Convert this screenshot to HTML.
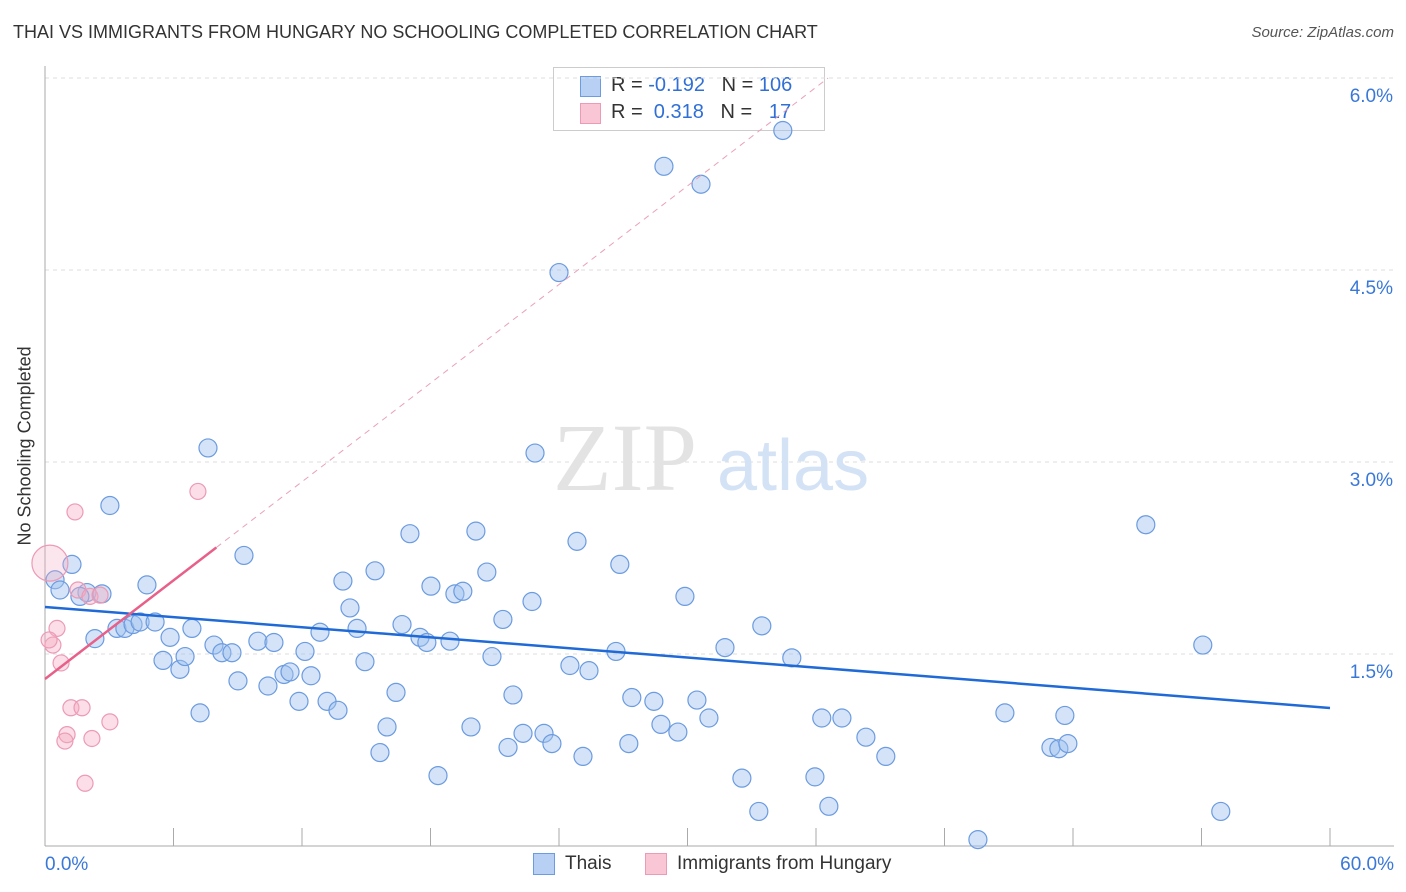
<!DOCTYPE html>
<html><head><meta charset="utf-8"><style>
body{margin:0;background:#fff;font-family:"Liberation Sans",sans-serif;}
#wrap{position:relative;width:1406px;height:892px;overflow:hidden;}
.t{position:absolute;white-space:nowrap;}
</style></head><body>
<div id="wrap">
<div class="t" style="left:13px;top:22px;font-size:18px;color:#333;">THAI VS IMMIGRANTS FROM HUNGARY NO SCHOOLING COMPLETED CORRELATION CHART</div>
<div class="t" style="right:12px;top:24px;font-size:15px;color:#555;font-style:italic;">Source: ZipAtlas.com</div>
<div class="t" style="left:-65px;top:445px;font-size:18px;color:#333;transform:rotate(-90deg);width:180px;text-align:center;">No Schooling Completed</div>
<div style="position:absolute;left:553px;top:67px;width:270px;height:62px;border:1px solid #ccc;background:#fff;"></div>
<div style="position:absolute;left:580px;top:76px;width:19px;height:19px;background:#b8d0f3;border:1px solid #6b9be0;"></div>
<div style="position:absolute;left:580px;top:103px;width:19px;height:19px;background:#f9c6d6;border:1px solid #ec9ab5;"></div>
<div class="t" style="left:611px;top:74px;font-size:20px;color:#333;">R = <span style="color:#2f6fd6">-0.192</span>&nbsp;&nbsp;&nbsp;N = <span style="color:#2f6fd6">106</span></div>
<div class="t" style="left:611px;top:101px;font-size:20px;color:#333;">R = &nbsp;<span style="color:#2f6fd6">0.318</span>&nbsp;&nbsp;&nbsp;N = &nbsp;&nbsp;<span style="color:#2f6fd6">17</span></div>
<svg id="plot" width="1406" height="892" style="position:absolute;left:0;top:0"></svg>
<div style="position:absolute;left:533px;top:853px;width:20px;height:20px;background:#b8d0f3;border:1px solid #6b9be0;"></div>
<div class="t" style="left:565px;top:853px;font-size:19px;color:#333;">Thais</div>
<div style="position:absolute;left:645px;top:853px;width:20px;height:20px;background:#f9c6d6;border:1px solid #ec9ab5;"></div>
<div class="t" style="left:677px;top:853px;font-size:19px;color:#333;">Immigrants from Hungary</div>
</div>
<script>
const xTickLabels=["0.0%","60.0%"];
const yTicks=[1.5,3.0,4.5,6.0];
const yTickLabels=["1.5%","3.0%","4.5%","6.0%"];
const thaiX=[1.26,0.47,0.70,1.96,1.63,2.66,3.03,4.76,2.33,3.36,3.73,4.11,4.44,5.14,5.84,5.51,6.30,6.54,6.86,7.24,7.61,7.89,8.26,8.73,9.01,9.29,9.94,10.41,10.69,11.16,11.44,11.86,12.14,12.42,12.84,13.17,13.68,13.91,14.24,14.57,14.94,15.41,15.97,16.39,16.67,15.64,17.04,17.51,17.83,18.02,18.35,18.91,19.14,19.51,19.89,20.12,20.63,20.87,21.38,21.62,21.85,22.32,22.74,22.88,23.30,23.67,24.00,24.51,24.84,25.12,25.40,26.66,26.84,27.26,27.40,28.43,28.76,28.90,29.55,29.88,30.44,30.63,31.00,31.75,32.54,33.33,33.47,34.45,34.87,35.95,36.27,36.60,37.21,38.33,39.26,43.56,44.82,46.97,47.34,47.62,47.76,51.40,54.06,54.90];
const thaiY=[2.20,2.08,2.00,1.98,1.95,1.97,2.66,2.04,1.62,1.70,1.70,1.73,1.75,1.75,1.63,1.45,1.38,1.48,1.70,1.04,3.11,1.57,1.51,1.51,1.29,2.27,1.60,1.25,1.59,1.34,1.36,1.13,1.52,1.33,1.67,1.13,1.06,2.07,1.86,1.70,1.44,2.15,0.93,1.20,1.73,0.73,2.44,1.63,1.59,2.03,0.55,1.60,1.97,1.99,0.93,2.46,2.14,1.48,1.77,0.77,1.18,0.88,1.91,3.07,0.88,0.80,4.48,1.41,2.38,0.70,1.37,1.52,2.20,0.80,1.16,1.13,0.95,5.31,0.89,1.95,1.14,5.17,1.00,1.55,0.53,0.27,1.72,5.59,1.47,0.54,1.00,0.31,1.00,0.85,0.70,0.05,1.04,0.77,0.76,1.02,0.80,2.51,1.57,0.27];
const hunX=[0.23,1.40,7.14,1.54,2.10,2.57,0.56,0.37,0.19,0.75,1.21,1.73,3.03,1.03,0.93,2.19,1.87];
const hunY=[2.21,2.61,2.77,2.00,1.95,1.96,1.70,1.57,1.61,1.43,1.08,1.08,0.97,0.87,0.82,0.84,0.49];
const thaiTrend=[1.867,1.078];
const hunTrend=[1.305,0.1284];
const svg=document.getElementById('plot');
const NS='http://www.w3.org/2000/svg';
const X0=45,X1=1330,Y0=846,Y6=78;
const xs=v=>X0+v/60*(X1-X0);
const ys=v=>Y0-v/6*(Y0-Y6);
function mk(tag,attrs){const e=document.createElementNS(NS,tag);for(const k in attrs)e.setAttribute(k,attrs[k]);svg.appendChild(e);return e;}
yTicks.forEach((t,i)=>{
 const g=mk('line',{x1:X0,x2:1394,y1:ys(t),y2:ys(t),stroke:'#ddd','stroke-dasharray':'4,4'});
 
 
 const l=mk('text',{x:1393,y:ys(t)+24,'text-anchor':'end','font-size':19,fill:'#3a78d8','font-family':'Liberation Sans'});
 l.textContent=yTickLabels[i];
 
 
});
const ax=mk('line',{x1:X0,x2:X0,y1:66,y2:Y0,stroke:'#aaa'});


const bx=mk('line',{x1:X0,x2:1394,y1:Y0,y2:Y0,stroke:'#aaa'});


for(let i=0;i<=10;i++){
 const tk=mk('line',{x1:xs(i*6),x2:xs(i*6),y1:Y0,y2:828,stroke:'#aaa'});
 
 
}
[[0,'start',45],[60,'end',1394]].forEach((a,i)=>{
 const l=mk('text',{x:a[2],y:870,'text-anchor':a[1],'font-size':19,fill:'#3a78d8','font-family':'Liberation Sans'});
 l.textContent=xTickLabels[i];
 
 
});
const w1=mk('text',{x:553,y:490,'font-size':96,fill:'#e3e3e3','font-family':'Liberation Serif'});
w1.textContent='ZIP';


const w2=mk('text',{x:717,y:490,'font-size':72,fill:'#d4e2f6','font-family':'Liberation Sans'});
w2.textContent='atlas';


thaiX.forEach((x,i)=>{
 const c=mk('circle',{cx:xs(x),cy:ys(thaiY[i]),r:9,fill:'rgba(160,192,238,0.45)',stroke:'#6b9be0','stroke-width':1.2});
 
 
});
hunX.forEach((x,i)=>{
 const c=mk('circle',{cx:xs(x),cy:ys(hunY[i]),r:i===0?18:8,fill:i===0?'rgba(246,172,196,0.3)':'rgba(246,172,196,0.4)',stroke:'#ec9ab5','stroke-width':1.2});
 
 
});
const tl=mk('line',{x1:xs(0),y1:ys(thaiTrend[0]),x2:xs(60),y2:ys(thaiTrend[1]),stroke:'#1f6ad6','stroke-width':2.5});


const xEnd=(6-hunTrend[0])/hunTrend[1];
const hd=mk('line',{x1:xs(8),y1:ys(hunTrend[0]+hunTrend[1]*8),x2:xs(xEnd),y2:ys(6),stroke:'#eaa0b8','stroke-width':1,'stroke-dasharray':'6,5'});


const hl=mk('line',{x1:xs(0),y1:ys(hunTrend[0]),x2:xs(8),y2:ys(hunTrend[0]+hunTrend[1]*8),stroke:'#e8608a','stroke-width':2.5});


</script>
</body></html>
